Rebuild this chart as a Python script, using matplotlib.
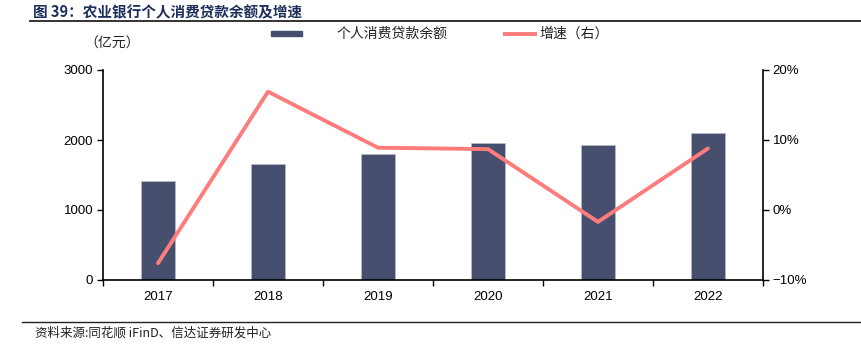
import matplotlib
matplotlib.use("Agg")
import matplotlib.pyplot as plt
from matplotlib.lines import Line2D
from matplotlib.patches import Rectangle
import numpy as np

years = ["2017", "2018", "2019", "2020", "2021", "2022"]
balance = [1415, 1657, 1805, 1962, 1929, 2105]          # 亿元
growth = [-7.6, 16.9, 8.9, 8.7, -1.7, 8.8]              # %

left_ticks = [0, 1000, 2000, 3000]
right_ticks = [-10, 0, 10, 20]

title = "图 39：农业银行个人消费贷款余额及增速"
source = "资料来源:同花顺 iFinD、信达证券研发中心"
unit = "（亿元）"
bar_label = "个人消费贷款余额"
line_label = "增速（右）"

CJK = ["Noto Sans CJK SC", "DejaVu Sans"]
NUM = ["Liberation Sans", "DejaVu Sans"]

bar_color = "#464F6E"
line_color = "#FF7C7C"
title_color = "#1F2F5C"

W, H = 861, 351
fig = plt.figure(figsize=(W / 100, H / 100), dpi=100)

ax = fig.add_axes([103 / W, 1 - 280 / H, (763 - 103) / W, (280 - 70) / H])
x = np.arange(len(years))
ax.bar(x, balance, width=0.315, color=bar_color, edgecolor="#B8BCCB", linewidth=0.5, zorder=2)
ax.set_xlim(-0.5, len(years) - 0.5)
ax.set_ylim(0, 3000)
ax.set_yticks(left_ticks)
ax.set_yticklabels([str(v) for v in left_ticks], family=NUM, fontsize=9.5)
ax.set_xticks(x)
ax.set_xticklabels(years, family=NUM, fontsize=9.5)
ax.tick_params(axis="x", length=0, pad=8)
ax.set_xticks(np.arange(-0.5, len(years) + 0.5, 1), minor=True)
ax.tick_params(axis="x", which="minor", length=4, width=1, direction="out")
ax.tick_params(axis="y", length=4, width=1, direction="out", pad=3)
for s in ["top", "right"]:
    ax.spines[s].set_visible(False)
for s in ["left", "bottom"]:
    ax.spines[s].set_linewidth(1.2)

ax2 = ax.twinx()
ax2.plot(x, growth, color=line_color, linewidth=2.8, solid_capstyle="round", zorder=3)
ax2.set_ylim(-10, 20)
ax2.set_yticks(right_ticks)
ax2.set_yticklabels([("−" if v < 0 else "") + f"{abs(v)}%" for v in right_ticks], family=NUM, fontsize=9.5)
ax2.tick_params(axis="y", length=4, width=1, direction="out", pad=3)
for s in ["top", "left", "bottom"]:
    ax2.spines[s].set_visible(False)
ax2.spines["right"].set_linewidth(1.2)

# Title and rules
fig.text(33 / W, 1 - 12 / H, title, family=CJK, fontsize=10.5, fontweight="bold",
         color=title_color, va="center", ha="left")
fig.add_artist(Line2D([30 / W, 1], [1 - 21 / H, 1 - 21 / H], color="#222222", linewidth=1.3))
fig.add_artist(Line2D([22 / W, 1], [1 - 322 / H, 1 - 322 / H], color="#222222", linewidth=1.0))
fig.text(35 / W, 1 - 333 / H, source, family=CJK, fontsize=9, style="italic",
         color="#222222", va="center", ha="left")

# Unit
fig.text(84 / W, 1 - 44 / H, unit, family=CJK, fontsize=10, color="#222222",
         va="center", ha="left")

# Legend (manual)
fig.add_artist(Rectangle((271 / W, 1 - 36 / H), 31 / W, 5 / H, color=bar_color,
                         transform=fig.transFigure))
fig.text(337 / W, 1 - 34 / H, bar_label, family=CJK, fontsize=10, color="#222222",
         va="center", ha="left")
fig.add_artist(Line2D([503 / W, 537 / W], [1 - 34 / H, 1 - 34 / H], color=line_color,
                      linewidth=2.8, solid_capstyle="butt"))
fig.text(539 / W, 1 - 34 / H, line_label, family=CJK, fontsize=10, color="#222222",
         va="center", ha="left")

fig.savefig("out.png", dpi=100)
